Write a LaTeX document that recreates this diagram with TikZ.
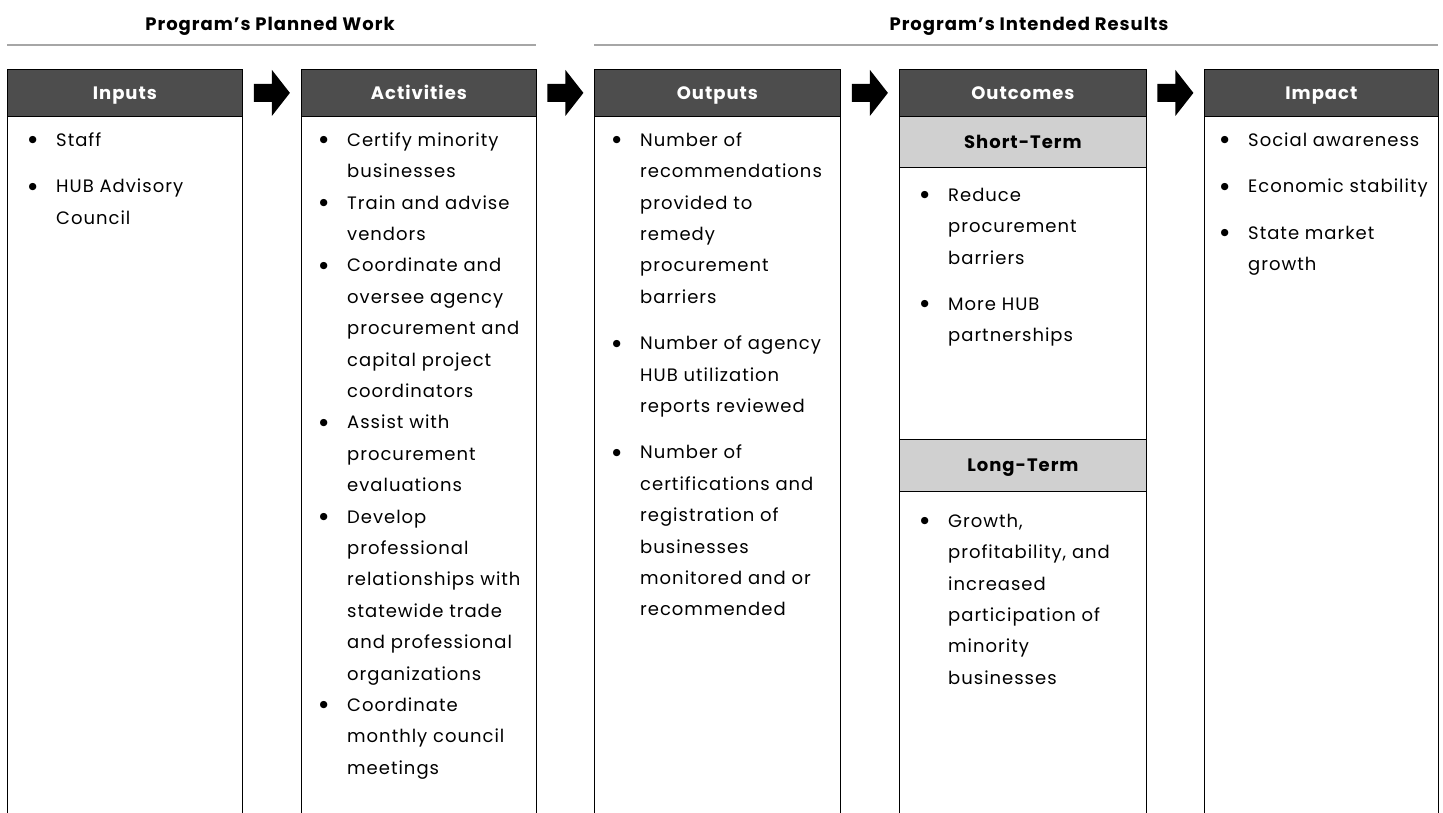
\documentclass[tikz,border=0pt]{standalone}
\usepackage{fontspec}
\setmainfont{Poppins}[LetterSpace=5.5]
\newfontfamily\symfont{DejaVu Sans}
\usetikzlibrary{calc}

\definecolor{headgray}{HTML}{4D4D4D}
\definecolor{bandgray}{HTML}{D0D0D0}
\definecolor{rulegray}{HTML}{A6A6A6}

% body text: 18pt type on a 31.4pt line pitch
\newcommand\bodysize{\fontsize{18}{31.4}\selectfont}
\newcommand\headsize{\fontsize{18}{20}\selectfont\bfseries}
% round bullet with a fixed-height strut so every item block starts alike
\newcommand\bl{\rule{0pt}{14pt}\makebox[27.5pt][l]{\raisebox{3.6pt}{\symfont\fontsize{9.5}{9.5}\selectfont ●}}}
\newcommand\ind{\hspace*{27.5pt}}
\newcommand\itemgap{15pt}

\tikzset{
  header/.style={draw=black, line width=0.8pt, fill=headgray, text=white,
    font=\headsize, inner sep=0pt, anchor=north west, minimum height=47pt,
    text height=12.6pt, text depth=0pt},
  band/.style={draw=black, line width=0.8pt, fill=bandgray, text=black,
    font=\headsize, inner sep=0pt, anchor=north west,
    text height=12.6pt, text depth=0pt},
  titletxt/.style={font=\headsize, text=black, inner sep=0pt,
    text height=12.6pt, text depth=0pt},
  bodytxt/.style={font=\bodysize, align=left, inner sep=0pt, anchor=north west},
  frame/.style={draw=black, line width=0.8pt},
  sectionrule/.style={draw=rulegray, line width=1.6pt},
  blockarrow/.style={fill=black},
}

% block arrow centred in the gap between two header boxes
\newcommand\blockarrow[2]{%
  \fill[blockarrow] ($(#1.east)!0.5!(#2.west)$) ++(-18,-9) -- ++(18,0) -- ++(0,-14)
    -- ++(18,23) -- ++(-18,23) -- ++(0,-14) -- ++(-18,0) -- cycle;}

\begin{document}
\begin{tikzpicture}[x=1pt,y=-1pt]
\useasboundingbox (0,0) rectangle (1443,812);
\fill[white] (0,0) rectangle (1443,812);

% section titles and rules
\node[titletxt] (planned) at (270,24) {Program’s Planned Work};
\draw[sectionrule] (7,45) -- (536,45);
\node[titletxt] (intended) at (1029,24) {Program’s Intended Results};
\draw[sectionrule] (594,45) -- (1438,45);

% column headers
\node[header, minimum width=235pt] (inputs)     at (7,69)    {Inputs};
\node[header, minimum width=235pt] (activities) at (301,69)  {Activities};
\node[header, minimum width=246pt] (outputs)    at (594,69)  {Outputs};
\node[header, minimum width=247pt] (outcomes)   at (899,69)  {Outcomes};
\node[header, minimum width=234pt] (impact)     at (1204,69) {Impact};

% column side walls running off the bottom edge
\foreach \c in {inputs,activities,outputs,outcomes,impact}{
  \draw[frame] (\c.south west) -- (\c.south west |- 0,813);
  \draw[frame] (\c.south east) -- (\c.south east |- 0,813);
}

% outcome sub-bands
\node[band, minimum width=247pt, minimum height=51pt] (shortterm) at (899,116) {Short-Term};
\node[band, minimum width=247pt, minimum height=52pt] (longterm)  at (899,439) {Long-Term};

% arrows between the columns
\blockarrow{inputs}{activities}
\blockarrow{activities}{outputs}
\blockarrow{outputs}{outcomes}
\blockarrow{outcomes}{impact}

% column contents
\node[bodytxt] (inputslist) at (28.5,132) {%
\bl Staff\\[\itemgap]
\bl HUB Advisory\\
\ind Council};

\node[bodytxt] (activitieslist) at (319.5,132) {%
\bl Certify minority\\
\ind businesses\\
\bl Train and advise\\
\ind vendors\\
\bl Coordinate and\\
\ind oversee agency\\
\ind procurement and\\
\ind capital project\\
\ind coordinators\\
\bl Assist with\\
\ind procurement\\
\ind evaluations\\
\bl Develop\\
\ind professional\\
\ind relationships with\\
\ind statewide trade\\
\ind and professional\\
\ind organizations\\
\bl Coordinate\\
\ind monthly council\\
\ind meetings};

\node[bodytxt] (outputslist) at (612.5,132) {%
\bl Number of\\
\ind recommendations\\
\ind provided to\\
\ind remedy\\
\ind procurement\\
\ind barriers\\[\itemgap]
\bl Number of agency\\
\ind HUB utilization\\
\ind reports reviewed\\[\itemgap]
\bl Number of\\
\ind certifications and\\
\ind registration of\\
\ind businesses\\
\ind monitored and or\\
\ind recommended};

\node[bodytxt] (shortlist) at (920.5,187) {%
\bl Reduce\\
\ind procurement\\
\ind barriers\\[\itemgap]
\bl More HUB\\
\ind partnerships};

\node[bodytxt] (longlist) at (920.5,513) {%
\bl Growth,\\
\ind profitability, and\\
\ind increased\\
\ind participation of\\
\ind minority\\
\ind businesses};

\node[bodytxt] (impactlist) at (1220.5,132) {%
\bl Social awareness\\[\itemgap]
\bl Economic stability\\[\itemgap]
\bl State market\\
\ind growth};
\end{tikzpicture}
\end{document}
